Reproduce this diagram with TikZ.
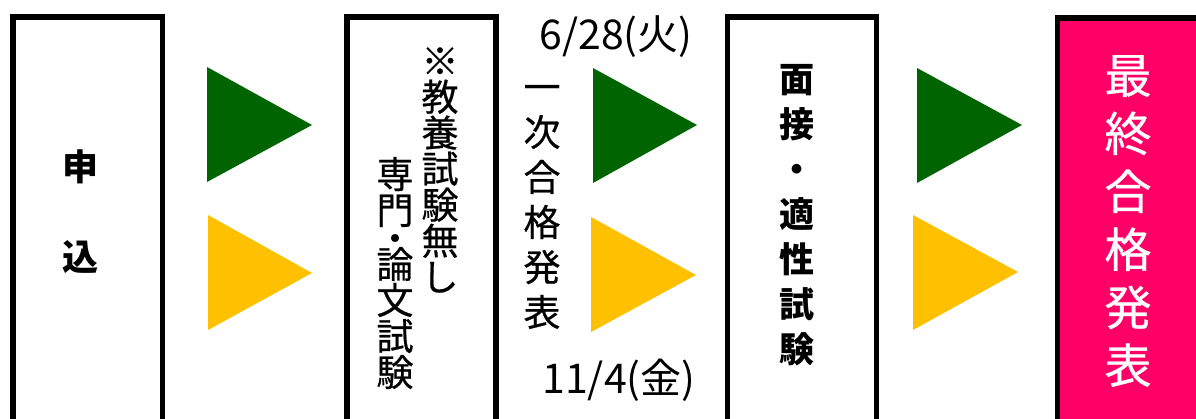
\documentclass[tikz,border=0pt]{standalone}
\usepackage{fontspec}
\newfontfamily\cjk{Noto Sans CJK JP}
\newfontfamily\cjkm[FakeBold=0.6]{Noto Sans CJK JP}
\newcommand\tightls{\lineskiplimit=-100pt\relax}
\definecolor{arrgreen}{RGB}{0,100,0}
\definecolor{arryellow}{RGB}{255,192,0}
\definecolor{finalpink}{RGB}{255,0,102}
\begin{document}
\begin{tikzpicture}[x=1pt,y=-1pt,
  stagebox/.style={draw=black,line width=5.5pt,anchor=north west,inner sep=0pt},
  vtext/.style={align=center,inner sep=0pt},
  datetext/.style={inner sep=0pt,font=\cjk\fontsize{41}{46}\selectfont},
  greentri/.style={fill=arrgreen},
  yellowtri/.style={fill=arryellow}]
\useasboundingbox (0,0) rectangle (1196,418);
\clip (0,0) rectangle (1196,418);
% boxes
\node[stagebox,minimum width=149.5pt,minimum height=430pt] (b1) at (10,14) {};
\node[stagebox,minimum width=149pt,minimum height=430pt] (b2) at (344,14) {};
\node[stagebox,minimum width=149pt,minimum height=430pt] (b3) at (724.5,14) {};
\node[stagebox,fill=finalpink,minimum width=200pt,minimum height=430pt] (b4) at (1054.5,15) {};
% texts
\node[vtext,font=\cjk\bfseries\fontsize{36}{90}\selectfont] (t1) at (80,212) {申\\込};
\node[vtext,font={\cjkm\fontsize{37}{36}\selectfont\tightls}] (t2a) at (440,170) {※\\教\\養\\試\\験\\無\\し};
\node[vtext,font={\cjkm\fontsize{37}{36}\selectfont\tightls}] (t2b) at (395,273) {専\\門\\[-8pt]・\\[-10pt]論\\文\\試\\験};
\node[vtext,font={\cjkm\fontsize{37}{45}\selectfont\tightls}] (t3) at (542,207) {一\\次\\合\\格\\発\\表};
\node[vtext,font={\cjk\bfseries\fontsize{35}{45}\selectfont\tightls}] (t4) at (797,215) {面\\接\\・\\適\\性\\試\\験};
\node[vtext,text=white,font={\cjkm\fontsize{47}{58}\selectfont\tightls}] (t5) at (1128,221) {最\\終\\合\\格\\発\\表};
\node[datetext] (d1) at (616,37) {6/28(火)};
\node[datetext] (d2) at (619,380) {11/4(金)};
% triangles
\fill[greentri] (207,67) -- (312,125) -- (207,182) -- cycle;
\fill[yellowtri] (208,215) -- (312,273) -- (208,330) -- cycle;
\fill[greentri] (593,68) -- (697,125) -- (593,183) -- cycle;
\fill[yellowtri] (591,217) -- (696,275) -- (591,332) -- cycle;
\fill[greentri] (917,68) -- (1022,125) -- (917,183) -- cycle;
\fill[yellowtri] (913,215) -- (1018,272) -- (913,330) -- cycle;
\end{tikzpicture}
\end{document}
